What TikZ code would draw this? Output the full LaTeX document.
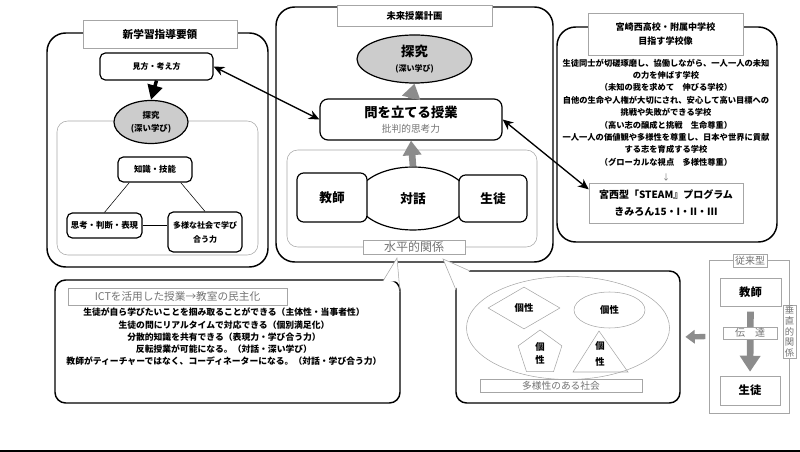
\documentclass[tikz,border=0pt]{standalone}
\usepackage{fontspec}
\setmainfont{Noto Sans CJK JP}
\usetikzlibrary{arrows.meta,shapes.geometric}
\colorlet{txtgray}{black!55}
\colorlet{linegray}{black!35}
\colorlet{arrowgray}{black!45}
\tikzset{
  wh/.style 2 args={minimum width=#1*0.75pt, minimum height=#2*0.75pt},
  panel/.style={draw, line width=1.1pt, rounded corners=14pt},
  innerbox/.style={draw=linegray, rounded corners=8pt},
  titlebox/.style={draw=linegray, fill=white, inner sep=0pt, align=center},
  rbox/.style={draw, line width=0.9pt, rounded corners=4pt, fill=white, inner sep=0pt, align=center},
  tagbox/.style={draw=linegray, fill=white, inner sep=0pt, text=txtgray, align=center},
  tanq/.style={draw, line width=0.9pt, ellipse, fill=black!20, inner sep=0pt, align=center},
  kosei/.style={draw=linegray, inner sep=0pt, align=center, font=\bfseries\fontsize{7}{9.75}\selectfont},
  dbl/.style={draw, line width=1pt, {Stealth[length=8pt,width=7pt]}-{Stealth[length=8pt,width=7pt]}},
  grayarrow/.style={draw=arrowgray, line width=5pt, -{Triangle[length=11pt,width=13.5pt]}},
}
\begin{document}
\begin{tikzpicture}[x=0.75pt,y=-0.75pt]
\useasboundingbox (0,0) rectangle (800,452);
\node[panel, wh={221}{234}] (leftpanel) at (157.5,150) {};
\node[innerbox, wh={201}{134}] (leftinner) at (157.5,188) {};
\node[titlebox, wh={154}{28}, font=\bfseries\fontsize{8}{10}\selectfont] (shingaku) at (160,34) {新学習指導要領};
\node[rbox, wh={113}{27}, font=\bfseries\fontsize{6}{8}\selectfont] (mikata) at (156.5,66.5) {見方・考え方};
\node[tanq, wh={74}{43}, font=\bfseries\fontsize{6.3}{9.5}\selectfont] (tanL) at (151,122) {探究\\(深い学び)};
\node[rbox, wh={74}{25}, font=\bfseries\fontsize{6.3}{8}\selectfont] (chishiki) at (155,169.5) {知識・技能};
\node[rbox, wh={75}{25}, font=\bfseries\fontsize{6.3}{8}\selectfont] (shikou) at (104.5,225.5) {思考・判断・表現};
\node[rbox, wh={74}{40}, font=\bfseries\fontsize{6}{10.5}\selectfont] (manabi) at (205,232) {多様な社会で学び\\合う力};
\path[draw, line width=2.6pt, -{Triangle[length=11pt,width=11pt]}] (mikata.south) -- (tanL.north);
\path[draw, thin] (chishiki.207) -- (shikou.north);
\path[draw, thin] (chishiki.333) -- (manabi.north);
\path[draw, thin] (shikou.east) -- (shikou.east -| manabi.west);
\node[panel, wh={277}{255}] (midpanel) at (414.5,134.5) {};
\node[innerbox, wh={250}{97}] (midinner) at (412,198.5) {};
\node[titlebox, wh={155}{21}, font=\bfseries\fontsize{7}{9}\selectfont] (mirai) at (414.5,15.5) {未来授業計画};
\node[tanq, wh={115}{48}] (tanM) at (414.5,59) {{\bfseries\fontsize{10}{12}\selectfont 探究}\\[-1pt]{\bfseries\fontsize{6}{8}\selectfont (深い学び)}};
\node[rbox, wh={182}{41}, rounded corners=6pt] (toi) at (411,119.5) {{\bfseries\fontsize{10}{11}\selectfont 問を立てる授業}\\[-1pt]{\color{txtgray}\fontsize{7.3}{8}\selectfont 批判的思考力}};
\node[draw, ellipse, line width=0.9pt, fill=white, wh={112}{63}, font=\bfseries\fontsize{9.5}{11}\selectfont] (taiwa) at (413,198.5) {対話};
\node[rbox, wh={70}{49}, rounded corners=5pt, font=\bfseries\fontsize{9.5}{11}\selectfont] (kyoshi) at (332,197.5) {教師};
\node[rbox, wh={68}{47}, rounded corners=5pt, font=\bfseries\fontsize{9.5}{11}\selectfont] (seito) at (493,198.5) {生徒};
\node[tagbox, wh={102}{14}, font=\fontsize{9}{10}\selectfont] (suihei) at (414,247) {水平的関係};
\path[grayarrow] (taiwa.north) -- (toi.south);
\path[grayarrow] (toi.north) -- (tanM.south);
\node[panel, wh={220}{215}] (rightpanel) at (667,134.5) {};
\node[titlebox, wh={155}{42}, font=\bfseries\fontsize{6.8}{10.7}\selectfont] (miyazaki) at (665.5,34) {宮崎西高校・附属中学校\\目指す学校像};
\node[inner sep=0pt, align=center, font=\bfseries\fontsize{6.2}{9.3}\selectfont] (gakko) at (666,112.5) {生徒同士が切磋琢磨し、協働しながら、一人一人の未知\\の力を伸ばす学校\\（未知の我を求めて　伸びる学校）\\自他の生命や人権が大切にされ、安心して高い目標への\\挑戦や失敗ができる学校\\（高い志の醸成と挑戦　生命尊重）\\一人一人の価値観や多様性を尊重し、日本や世界に貢献\\する志を育成する学校\\（グローカルな視点　多様性尊重）};
\node[inner sep=0pt, text=txtgray, font=\fontsize{6}{7}\selectfont] (yajirushi) at (666,177) {↓};
\node[titlebox, wh={154}{40}, font=\bfseries\fontsize{7.5}{12.75}\selectfont] (steam) at (666,203) {宮西型「STEAM』プログラム\\きみろん15・I・II・III};
\path[dbl] (mikata.east) -- (toi.west);
\path[dbl] (toi.east) -- (steam.170);
\node[panel, wh={345}{123}, rounded corners=8pt] (ictbubble) at (227.5,341.5) {};
\fill[white] (383,281.5) -- (397,258) -- (401,281.5) -- cycle;
\draw[linegray] (383,281) -- (397,258) -- (400,292);
\node[tagbox, wh={219}{17}, font=\fontsize{8}{10}\selectfont] (ict) at (177.5,296.5) {ICTを活用した授業→教室の民主化};
\node[inner sep=0pt, align=center, font=\bfseries\fontsize{6.6}{9.2}\selectfont] (ictlist) at (224,337) {生徒が自ら学びたいことを掴み取ることができる（主体性・当事者性）\\生徒の問にリアルタイムで対応できる（個別満足化）\\分散的知識を共有できる（表現力・学び合う力）\\反転授業が可能になる。（対話・深い学び）\\教師がティーチャーではなく、コーディネーターになる。（対話・学び合う力）};
\node[panel, wh={224}{132}, rounded corners=8pt] (societybubble) at (568,337) {};
\fill[white] (470,270) -- (443,259) -- (455,290) -- cycle;
\draw[linegray] (470,271) -- (443,259) -- (456,290);
\node[draw=linegray, ellipse, wh={203}{103}] (society) at (568,328) {};
\node[kosei, diamond, wh={72}{42}] (kosei1) at (524,308) {個性};
\node[kosei, ellipse, wh={71}{36}] (kosei2) at (609.5,310) {個性};
\node[kosei, regular polygon, regular polygon sides=5, minimum size=34.5pt] (kosei3) at (540,353) {個\\性};
\draw[linegray] (599,331) -- (628,372) -- (573,372) -- cycle;
\node[inner sep=0pt, align=center, font=\bfseries\fontsize{7}{12}\selectfont] (kosei4) at (600,354) {個\\性};
\node[tagbox, wh={162}{13}, font=\fontsize{7.3}{9}\selectfont] (tayousei) at (561,385.5) {多様性のある社会};
\node[draw=linegray, wh={80}{153}] (juuraipanel) at (749,336.5) {};
\node[tagbox, wh={34}{13}, font=\fontsize{7.5}{9}\selectfont] (juurai) at (750,261) {従来型};
\node[titlebox, wh={61}{28}, font=\bfseries\fontsize{8.5}{10}\selectfont] (kyoshi2) at (750.5,292) {教師};
\node[titlebox, wh={60}{29}, font=\bfseries\fontsize{8.5}{10}\selectfont] (seito2) at (750,390.5) {生徒};
\path[draw=arrowgray, line width=5pt, -{Triangle[length=12pt,width=15pt]}, shorten <=4pt, shorten >=3pt] (kyoshi2.south) -- (seito2.north);
\node[tagbox, wh={54}{12}, font=\fontsize{7.5}{9}\selectfont] (dentatsu) at (750,333) {伝　達};
\node[tagbox, wh={13}{53}, font=\fontsize{7}{7.9}\selectfont] (suichoku) at (789.5,331.5) {垂\\直\\的\\関\\係};
\path[draw=arrowgray, line width=4pt, -{Triangle[length=7pt,width=10pt]}, shorten <=2.5pt, shorten >=3.5pt] (juuraipanel.west) -- (societybubble.east);
\draw[line width=1.5pt] (0,451) -- (800,451);
\end{tikzpicture}
\end{document}
